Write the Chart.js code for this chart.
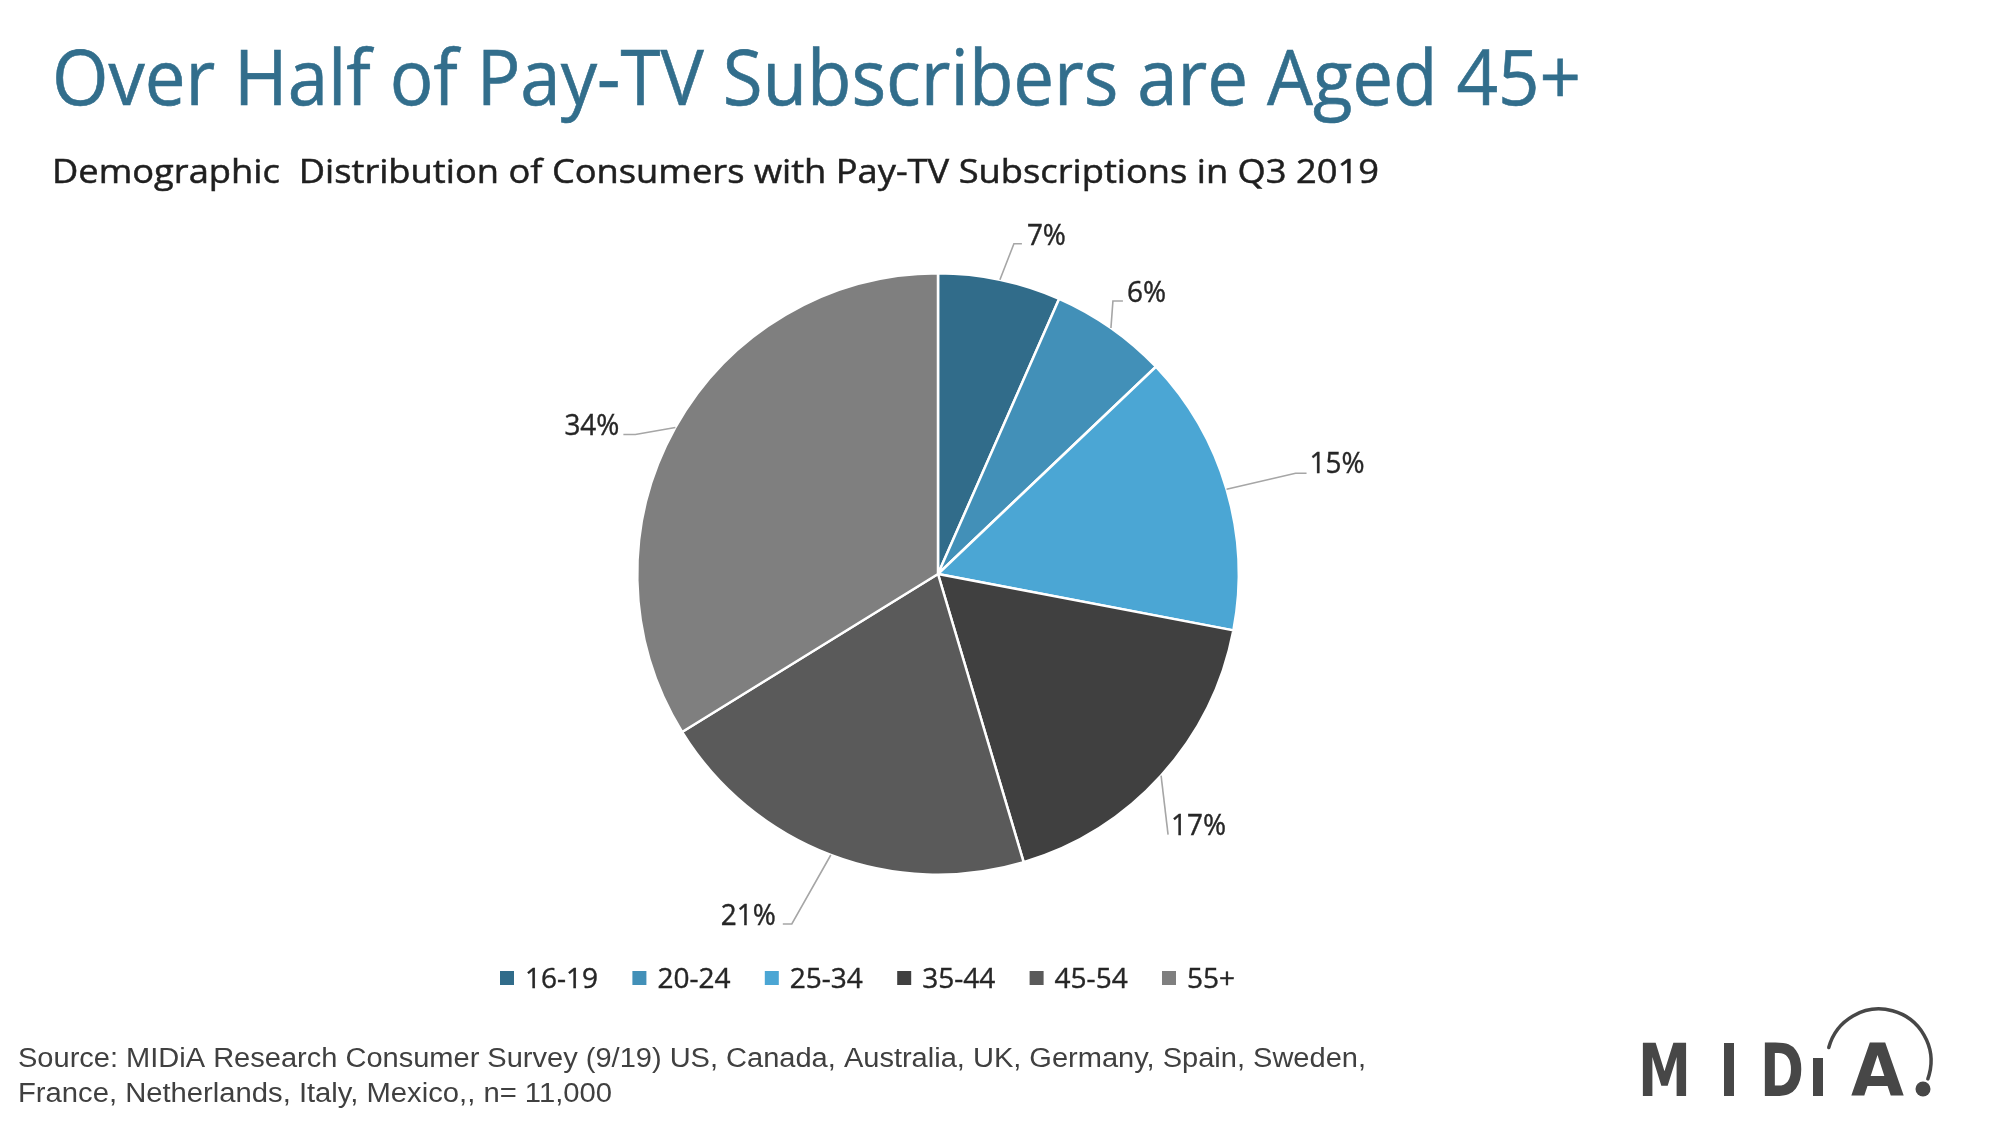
<!DOCTYPE html>
<html>
<head>
<meta charset="utf-8">
<script src="https://cdn.jsdelivr.net/npm/chart.js@4.4.1/dist/chart.umd.min.js"></script>
<style>
  html, body { margin: 0; padding: 0; background: #ffffff; }
  #wrap { width: 2002px; height: 1127px; position: relative; }
  canvas { display: block; }
</style>
</head>
<body>
<div id="wrap"><canvas id="c" width="2002" height="1127"></canvas></div>
<script>
// ---- data ----
const categories = ['16-19', '20-24', '25-34', '35-44', '45-54', '55+'];
const shares = [6.6, 6.3, 15.1, 17.4, 20.8, 33.8];
const shareLabels = ['7%', '6%', '15%', '17%', '21%', '34%'];
const sliceColors = ['#316c8a', '#4290b8', '#4ba6d4', '#404040', '#5a5a5a', '#7f7f7f'];

const titleText = 'Over Half of Pay-TV Subscribers are Aged 45+';
const subtitleText = 'Demographic  Distribution of Consumers with Pay-TV Subscriptions in Q3 2019';
const sourceLines = [
  'Source: MIDiA Research Consumer Survey (9/19) US, Canada, Australia, UK, Germany, Spain, Sweden,',
  'France, Netherlands, Italy, Mexico,, n= 11,000'
];

// ---- layout / style (not data) ----
// leader geometry relative to slice edge point: elbow, tail end, text anchor (x, baseline), align
const leaderLayout = [
  { elbow: [14, -36], end: [22, -36], text: [27, -35], align: 'left' },
  { elbow: [2, -27], end: [12, -27], text: [16, -26], align: 'left' },
  { elbow: [69, -16], end: [80, -16], text: [83, -16], align: 'left' },
  { elbow: [7, 59], end: [7, 59], text: [10, 59], align: 'left' },
  { elbow: [-39, 69], end: [-48, 69], text: [-55, 70], align: 'right' },
  { elbow: [-40, 7], end: [-52, 7], text: [-56, 8], align: 'right' }
];

function drawText(ctx, text, x, y, o) {
  ctx.save();
  ctx.font = o.font;
  ctx.fillStyle = o.color;
  ctx.textBaseline = 'alphabetic';
  ctx.textAlign = o.align || 'left';
  const w = ctx.measureText(text).width;
  let s = o.scaleX || 1;
  if (o.width) s = o.width / w;
  ctx.translate(x, y);
  ctx.scale(s, 1);
  ctx.fillText(text, 0, 0);
  if (o.stroke) {
    ctx.strokeStyle = o.color;
    ctx.lineWidth = o.stroke;
    ctx.strokeText(text, 0, 0);
  }
  ctx.restore();
}

const decorPlugin = {
  id: 'decor',
  afterDraw(chart) {
    const ctx = chart.ctx;
    // Title & subtitle
    drawText(ctx, titleText, 52, 105, { font: '400 76px "Open Sans"', color: '#326e8c', width: 1529, stroke: 0.6 });
    drawText(ctx, subtitleText, 52, 183, { font: '400 32px "Open Sans"', color: '#1f1f1f', width: 1327, stroke: 0.5 });

    // Data labels with leader lines
    const meta = chart.getDatasetMeta(0);
    meta.data.forEach((arc, i) => {
      const p = arc.getProps(['x', 'y', 'startAngle', 'endAngle', 'outerRadius'], true);
      const mid = (p.startAngle + p.endAngle) / 2;
      const ex = p.x + Math.cos(mid) * p.outerRadius;
      const ey = p.y + Math.sin(mid) * p.outerRadius;
      const L = leaderLayout[i];
      ctx.save();
      ctx.strokeStyle = '#a6a6a6';
      ctx.lineWidth = 1.6;
      ctx.beginPath();
      ctx.moveTo(ex, ey);
      ctx.lineTo(ex + L.elbow[0], ey + L.elbow[1]);
      ctx.lineTo(ex + L.end[0], ey + L.end[1]);
      ctx.stroke();
      ctx.restore();
      drawText(ctx, shareLabels[i], ex + L.text[0], ey + L.text[1],
        { font: '400 30px "Open Sans"', color: '#262626', scaleX: 0.93, align: L.align, stroke: 0.4 });
    });

    // Legend
    const legendX0 = 500, legendStep = 132.4, legendY = 971, box = 14;
    categories.forEach((c, i) => {
      const x = legendX0 + i * legendStep;
      ctx.fillStyle = sliceColors[i];
      ctx.fillRect(x, legendY, box, box);
      drawText(ctx, c, x + 25, 988, { font: '400 28px "Open Sans"', color: '#262626', scaleX: 1.0, stroke: 0.4 });
    });

    // Source
    drawText(ctx, sourceLines[0], 18, 1067, { font: '400 27px "Liberation Sans"', color: '#404040', width: 1348 });
    drawText(ctx, sourceLines[1], 18, 1102, { font: '400 27px "Liberation Sans"', color: '#404040', width: 594 });

    // Logo
    ctx.save();
    const logoCol = '#474747';
    const logoFont = '700 73px "DejaVu Sans"';
    drawText(ctx, 'M', 1638, 1096, { font: logoFont, color: logoCol, width: 53 });
    ctx.fillStyle = logoCol;
    ctx.fillRect(1724, 1043, 10, 53);
    drawText(ctx, 'D', 1760, 1096, { font: logoFont, color: logoCol, width: 44 });
    ctx.fillStyle = logoCol;
    ctx.fillRect(1813, 1058, 10, 38);
    drawText(ctx, 'A', 1851, 1096, { font: logoFont, color: logoCol, width: 53 });
    ctx.fillStyle = logoCol;
    ctx.beginPath();
    ctx.arc(1923, 1089, 7.5, 0, Math.PI * 2);
    ctx.fill();
    ctx.strokeStyle = logoCol;
    ctx.lineWidth = 3.5;
    ctx.lineCap = 'round';
    ctx.beginPath();
    ctx.arc(1879, 1061, 52, 195 * Math.PI / 180, (360 + 20) * Math.PI / 180);
    ctx.stroke();
    ctx.restore();
  }
};

new Chart(document.getElementById('c'), {
  type: 'pie',
  data: {
    labels: categories,
    datasets: [{
      data: shares,
      backgroundColor: sliceColors,
      borderColor: '#ffffff',
      borderWidth: 2.5
    }]
  },
  options: {
    responsive: false,
    animation: false,
    layout: { padding: { left: 636, right: 762, top: 272, bottom: 251 } },
    plugins: {
      legend: { display: false },
      tooltip: { enabled: false },
      title: { display: false }
    }
  },
  plugins: [decorPlugin]
});
</script>
</body>
</html>
